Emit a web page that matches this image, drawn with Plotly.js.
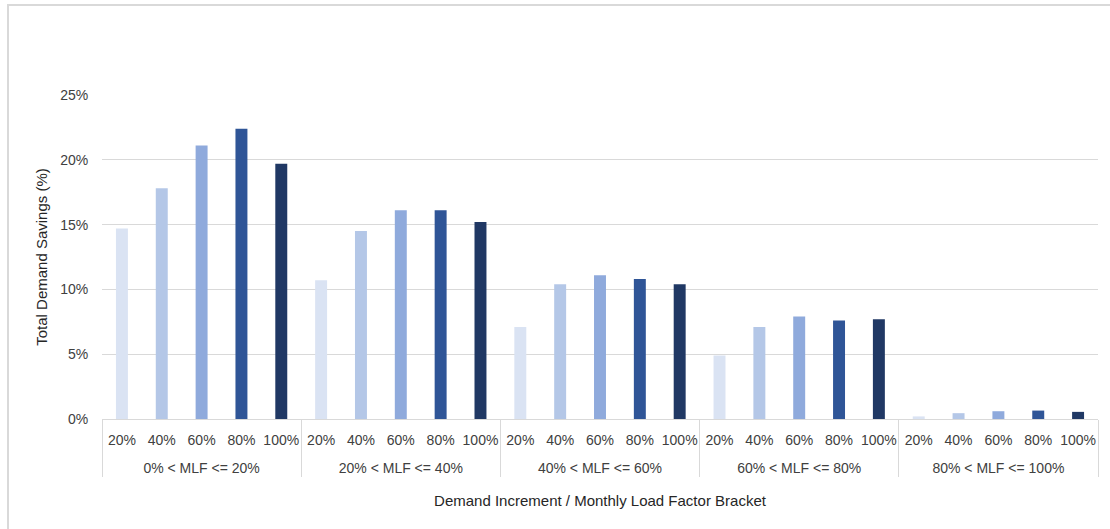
<!DOCTYPE html>
<html>
<head>
<meta charset="utf-8">
<script src="https://cdn.plot.ly/plotly-3.0.1.min.js"></script>
<style>
  html, body { margin: 0; padding: 0; background: #fff; }
  #chart { width: 1110px; height: 529px; position: relative; }
  #frame { position: absolute; left: 7px; top: 4px; width: 1110px; height: 529px;
           border-left: 2px solid #d9d9d9; border-top: 2px solid #d9d9d9; pointer-events: none; }
</style>
</head>
<body>
<div id="chart"></div>
<div id="frame"></div>
<script>
// Monthly load factor brackets (outer categories)
const groups = ["0% < MLF <= 20%", "20% < MLF <= 40%", "40% < MLF <= 60%", "60% < MLF <= 80%", "80% < MLF <= 100%"];
// Demand increments (inner categories)
const increments = ["20%", "40%", "60%", "80%", "100%"];
// Total demand savings (%) per bracket, one value per increment
const mlf0to20   = [14.7, 17.8, 21.1, 22.4, 19.7];
const mlf20to40  = [10.7, 14.5, 16.1, 16.1, 15.2];
const mlf40to60  = [7.1, 10.4, 11.1, 10.8, 10.4];
const mlf60to80  = [4.9, 7.1, 7.9, 7.6, 7.7];
const mlf80to100 = [0.2, 0.45, 0.6, 0.65, 0.55];
// Colour per increment
const incrementColors = ["#DAE3F3", "#B4C7E7", "#8FAADC", "#2F5597", "#203864"];

const series = [mlf0to20, mlf20to40, mlf40to60, mlf60to80, mlf80to100];
const outer = [], inner = [], yVals = [], colors = [];
groups.forEach((g, gi) => {
  increments.forEach((inc, ii) => {
    outer.push("<br>" + g);   // leading break gives Excel-like spacing between label rows
    inner.push(inc);
    yVals.push(series[gi][ii]);
    colors.push(incrementColors[ii]);
  });
});

const font = "Liberation Sans, Arial, sans-serif";
const trace = {
  type: "bar",
  x: [outer, inner],
  y: yVals,
  marker: { color: colors },
  hovertemplate: "%{x}: %{y}%<extra></extra>"
};

const layout = {
  width: 1110,
  height: 529,
  margin: { l: 102, r: 12, t: 95, b: 110 },
  paper_bgcolor: "#ffffff",
  plot_bgcolor: "#ffffff",
  bargap: 0.7,
  showlegend: false,
  font: { family: font, size: 14, color: "#404040" },
  xaxis: {
    type: "multicategory",
    tickangle: 0,
    showline: true,
    linecolor: "#d9d9d9",
    linewidth: 1,
    showdividers: true,
    dividercolor: "#d9d9d9",
    dividerwidth: 1,
    ticks: "",
    ticklabelstandoff: 8,
    tickfont: { family: font, size: 14, color: "#404040" },
    title: { text: "Demand Increment / Monthly Load Factor Bracket", font: { family: font, size: 15, color: "#262626" }, standoff: 20 },
    automargin: false
  },
  yaxis: {
    range: [0, 25],
    dtick: 5,
    ticksuffix: "%",
    showgrid: true,
    gridcolor: "#d9d9d9",
    gridwidth: 1,
    zeroline: false,
    showline: false,
    ticks: "outside",
    ticklen: 10,
    tickcolor: "rgba(0,0,0,0)",
    tickfont: { family: font, size: 14, color: "#404040" },
    title: { text: "Total Demand Savings (%)", font: { family: font, size: 15, color: "#262626" }, standoff: 8 },
    automargin: false
  }
};

Plotly.newPlot("chart", [trace], layout, { displayModeBar: false, staticPlot: true });
</script>
</body>
</html>
